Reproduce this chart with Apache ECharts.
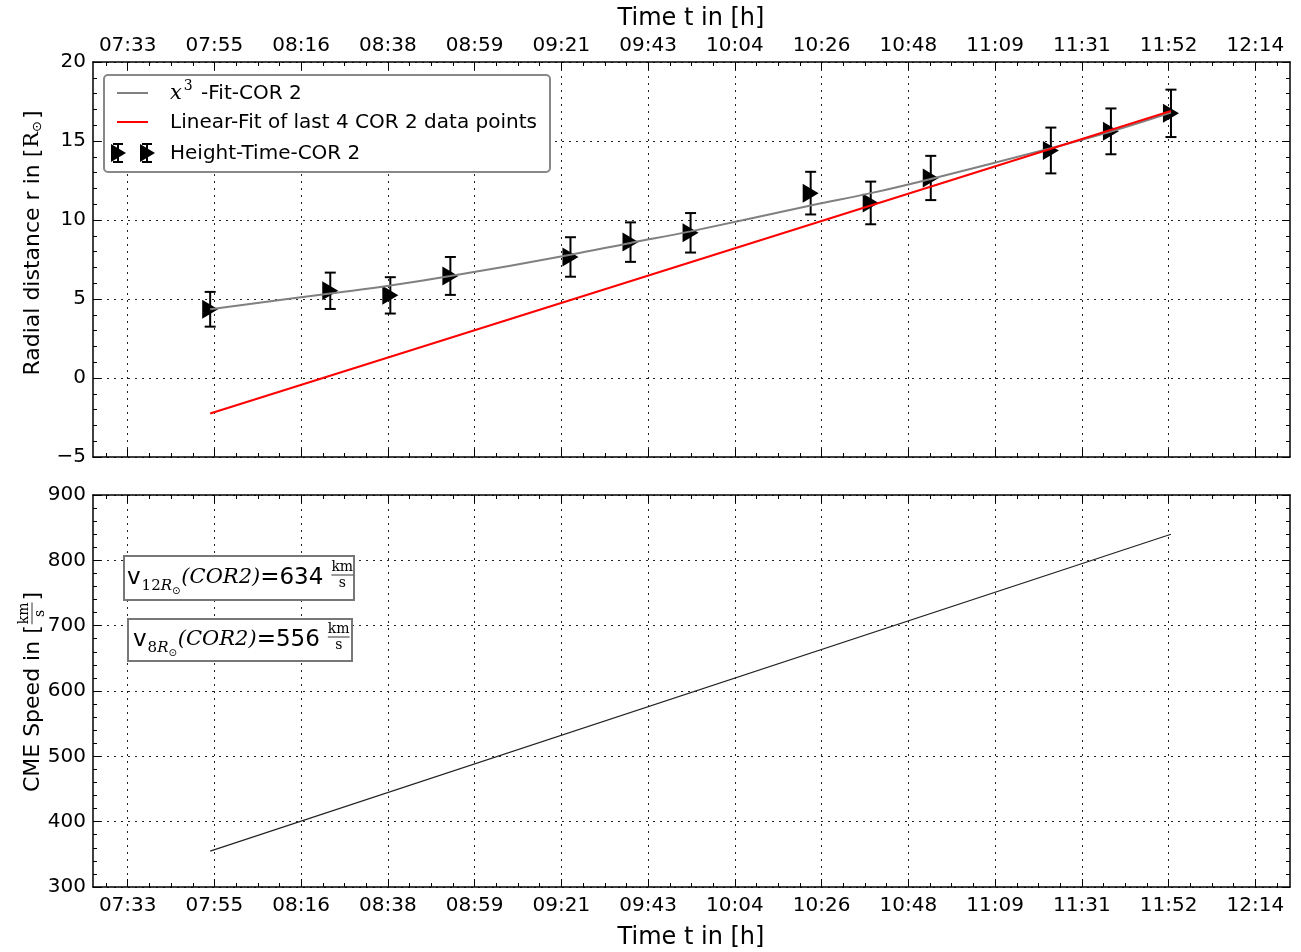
<!DOCTYPE html>
<html><head><meta charset="utf-8">
<script src="https://cdn.jsdelivr.net/npm/echarts@6/dist/echarts.min.js"></script>
<style>html,body{margin:0;padding:0;background:#fff}#c{width:1301px;height:952px}</style>
</head><body><div id="c"></div>
<script>
// ---------------- data ----------------
const tickLabels = ['07:33','07:55','08:16','08:38','08:59','09:21','09:43','10:04','10:26','10:48','11:09','11:31','11:52','12:14'];
const obsTimes   = ['07:54','08:24','08:39','08:54','09:24','09:39','09:54','10:24','10:39','10:54','11:24','11:39','11:54'];
const heights    = [4.35, 5.52, 5.23, 6.46, 7.66, 8.6, 9.19, 11.7, 11.08, 12.66, 14.4, 15.61, 16.75];
const heightErr  = [1.1, 1.15, 1.15, 1.2, 1.25, 1.25, 1.25, 1.35, 1.35, 1.4, 1.45, 1.45, 1.5];
const cubicFit   = [4.35, 5.35, 5.85, 6.45, 7.8, 8.55, 9.28, 10.92, 11.7, 12.6, 14.55, 15.6, 16.8];
const linearFitTimes = ['07:54','11:54'];
const linearFit      = [-2.25, 16.9];
const speedTimes = ['07:54','11:54'];
const speed      = [355, 840];
const rTicks = [-5, 0, 5, 10, 15, 20];
const vTicks = [300, 400, 500, 600, 700, 800, 900];

// ---------------- scales ----------------
const T0 = 453.4, STEP = 21.6667;           // minutes of first labelled tick, tick spacing
function toMin(s){ const p = s.split(':').map(Number); return p[0]*60 + p[1]; }
const xMin = T0 - 0.4*STEP, xMax = T0 + 13.4*STEP;
const N = 277;                               // -0.4 .. 13.4 tick-units in 0.05 steps
const cats = Array.from({length:N}, (_, i) => 'c' + i);
const isMajor = i => i >= 8 && (i - 8) % 20 === 0;
const isMinor = i => i >= 3 && (i - 3) % 5 === 0 && !isMajor(i);
const labelAt = i => isMajor(i) ? tickLabels[(i - 8) / 20] : '';

const SANS = 'DejaVu Sans', SERIF = 'DejaVu Serif';
const black = '#000';
const dotted = {color: '#222', type: [2, 5], width: 1};

function catAxis(grid, pos, kind, showLabel, showSplit){
  const major = kind === 'major';
  return {
    type: 'category', gridIndex: grid, position: pos, data: cats, boundaryGap: false,
    axisLine: {show: major, onZero: false, lineStyle: {color: black, width: 1.5}},
    axisTick: {show: true, inside: true, length: major ? 8 : 4,
      interval: major ? (i => isMajor(i)) : (i => isMinor(i)),
      lineStyle: {color: black, width: 1}},
    axisLabel: {show: showLabel, interval: i => isMajor(i), formatter: (v, i) => labelAt(i),
      fontFamily: SANS, fontSize: 20, color: black, margin: pos === 'top' ? 6 : 9},
    splitLine: {show: !!showSplit, interval: i => isMajor(i), lineStyle: dotted}
  };
}
function valX(grid){ return {type:'value', gridIndex: grid, show: false, min: xMin, max: xMax, axisLine:{onZero:false}}; }
function yAx(grid, pos, min, max, interval, showLabel){
  return {
    type: 'value', gridIndex: grid, position: pos, min: min, max: max, interval: interval,
    axisLine: {show: true, onZero: false, lineStyle: {color: black, width: 1.5}},
    axisTick: {show: true, inside: true, length: 8, lineStyle: {color: black}},
    minorTick: {show: true, splitNumber: 5, length: 4, lineStyle: {color: black}},
    axisLabel: {show: showLabel, fontFamily: SANS, fontSize: 20, color: black, margin: 7,
      formatter: v => v < 0 ? '\u2212' + (-v) : String(v)},
    splitLine: {show: showLabel, lineStyle: dotted}
  };
}

// ---------------- text helpers ----------------
const mctx = document.createElement('canvas').getContext('2d');
function fontStr(p){ return (p.it ? 'italic ' : '') + 'normal ' + p.size + 'px "' + p.fam + '"'; }
function tw(t, f){ mctx.font = f; return mctx.measureText(t).width; }
function runText(pieces, x0, y0, z){
  let x = x0; const els = [];
  pieces.forEach(p => {
    const f = fontStr(p);
    x += p.dx || 0;
    els.push({type: 'text', x: x, y: y0 + (p.dy || 0), z: z || 100,
      style: {text: p.t, font: f, fill: black, align: 'left', textAlign: 'left',
              verticalAlign: 'middle', textVerticalAlign: 'middle'}});
    x += tw(p.t, f);
  });
  return {els: els, width: x - x0};
}
function fraction(num, den, x, y, size, z){
  const f = 'normal normal ' + size + 'px "' + SERIF + '"';
  const wn = tw(num, f);
  return [
    {type:'text', x: x + wn/2, y: y - size*0.55, z: z, style:{text:num, font:f, fill:black, align:'center', textAlign:'center', verticalAlign:'middle', textVerticalAlign:'middle'}},
    {type:'line', z: z, shape:{x1: x, y1: y, x2: x + wn, y2: y}, style:{stroke:black, lineWidth:0.8}},
    {type:'text', x: x + wn/2, y: y + size*0.6, z: z, style:{text:den, font:f, fill:black, align:'center', textAlign:'center', verticalAlign:'middle', textVerticalAlign:'middle'}}
  ];
}

// ---------------- graphics ----------------
const graphics = [];
graphics.push({type:'text', x: 691, y: 19, z: 100, style:{text:'Time t in [h]', font:'normal normal 24px "'+SANS+'"', fill:black, align:'center', textAlign:'center', verticalAlign:'middle', textVerticalAlign:'middle'}});
graphics.push({type:'text', x: 691, y: 938, z: 100, style:{text:'Time t in [h]', font:'normal normal 24px "'+SANS+'"', fill:black, align:'center', textAlign:'center', verticalAlign:'middle', textVerticalAlign:'middle'}});

(function(){
  const r = runText([
    {t:'Radial distance r in [', size:22, fam:SANS},
    {t:'R', size:21, fam:SERIF, dx:1},
    {t:'\u2299', size:13, fam:'DejaVu Sans', dy:5},
    {t:']', size:22, fam:SANS, dx:2}
  ], 0, 0, 100);
  graphics.push({type:'group', x: 33, y: 243 + r.width/2, rotation: Math.PI/2, children: r.els});
})();
(function(){
  const r = runText([{t:'CME Speed in [', size:22, fam:SANS}], 0, 0, 100);
  const fs = 14;
  const wkm = tw('km', 'normal normal ' + fs + 'px "'+SERIF+'"');
  const f = fraction('km', 's', r.width + 1, -1, fs, 100);
  const r2 = runText([{t:']', size:22, fam:SANS}], r.width + wkm + 3, 0, 100);
  const total = r.width + wkm + 3 + r2.width;
  graphics.push({type:'group', x: 33, y: 692 + total/2, rotation: Math.PI/2, children: r.els.concat(f, r2.els)});
})();

// legend
(function(){
  const z = 100;
  graphics.push({type:'rect', z: z-1, shape:{x:104, y:75, width:446, height:97, r:4}, style:{fill:'#fff', stroke:'#888', lineWidth:2}});
  graphics.push({type:'line', z: z, shape:{x1:117, y1:93, x2:148, y2:93}, style:{stroke:'#808080', lineWidth:2}});
  graphics.push({type:'line', z: z, shape:{x1:117, y1:122, x2:148, y2:122}, style:{stroke:'#ff0000', lineWidth:2}});
  [118, 147].forEach(x => {
    const y = 153;
    graphics.push({type:'line', z: z, shape:{x1:x, y1:y-9, x2:x, y2:y+9}, style:{stroke:black, lineWidth:2}});
    graphics.push({type:'line', z: z, shape:{x1:x-5, y1:y-9, x2:x+5, y2:y-9}, style:{stroke:black, lineWidth:2}});
    graphics.push({type:'line', z: z, shape:{x1:x-5, y1:y+9, x2:x+5, y2:y+9}, style:{stroke:black, lineWidth:2}});
    graphics.push({type:'polygon', z: z+1, shape:{points:[[x-7,y-9],[x-7,y+9],[x+8,y]]}, style:{fill:black}});
  });
  const a = runText([
    {t:'x', size:21, fam:SERIF, it:true},
    {t:'3', size:14, fam:SERIF, dy:-8, dx:2},
    {t:' -Fit-COR 2', size:20, fam:SANS, dx:2}
  ], 170, 94, z);
  graphics.push(...a.els);
  graphics.push(...runText([{t:'Linear-Fit of last 4 COR 2 data points', size:20, fam:SANS}], 170, 123, z).els);
  graphics.push(...runText([{t:'Height-Time-COR 2', size:20, fam:SANS}], 170, 154, z).els);
})();

// speed annotation boxes
function speedBox(bx, by, bw, bh, sub, value, tx){
  const z = 100;
  graphics.push({type:'rect', z: z-1, shape:{x:bx, y:by, width:bw, height:bh}, style:{fill:'#fff', stroke:'#777', lineWidth:2}});
  const cy = by + bh/2;
  const r = runText([
    {t:'v', size:23, fam:SANS},
    {t:sub, size:15, fam:SERIF, dy:8, dx:1},
    {t:'R', size:15, fam:SERIF, it:true, dy:8},
    {t:'\u2299', size:10, fam:'DejaVu Sans', dy:13},
    {t:'(COR2)', size:21, fam:SERIF, it:true, dx:1},
    {t:'=' + value, size:23, fam:SANS}
  ], tx, cy, z);
  graphics.push(...r.els);
  graphics.push(...fraction('km', 's', tx + r.width + 8, cy - 3, 14, z));
}
speedBox(124, 556, 230, 44, '12', 634, 127);
speedBox(128, 619, 224, 42, '8', 556, 133);

// ---------------- series data ----------------
const errData   = obsTimes.map((t, i) => [toMin(t), heights[i], heightErr[i]]);
const pointData = obsTimes.map((t, i) => [toMin(t), heights[i]]);
const cubicData = obsTimes.map((t, i) => [toMin(t), cubicFit[i]]);
const linData   = linearFitTimes.map((t, i) => [toMin(t), linearFit[i]]);
const speedData = speedTimes.map((t, i) => [toMin(t), speed[i]]);

const option = {
  animation: false,
  backgroundColor: '#fff',
  grid: [
    {left: 93, right: 11, top: 62, height: 395, containLabel: false},
    {left: 93, right: 11, top: 495, height: 392, containLabel: false}
  ],
  xAxis: [
    valX(0),
    catAxis(0, 'bottom', 'major', false, true),
    catAxis(0, 'bottom', 'minor', false, false),
    catAxis(0, 'top', 'major', true, false),
    catAxis(0, 'top', 'minor', false, false),
    valX(1),
    catAxis(1, 'bottom', 'major', true, true),
    catAxis(1, 'bottom', 'minor', false, false),
    catAxis(1, 'top', 'major', false, false),
    catAxis(1, 'top', 'minor', false, false)
  ],
  yAxis: [
    yAx(0, 'left', rTicks[0], rTicks[rTicks.length-1], rTicks[1]-rTicks[0], true),
    yAx(0, 'right', rTicks[0], rTicks[rTicks.length-1], rTicks[1]-rTicks[0], false),
    yAx(1, 'left', vTicks[0], vTicks[vTicks.length-1], vTicks[1]-vTicks[0], true),
    yAx(1, 'right', vTicks[0], vTicks[vTicks.length-1], vTicks[1]-vTicks[0], false)
  ],
  series: [
    {
      type: 'custom', name: 'err', xAxisIndex: 0, yAxisIndex: 0, z: 2,
      data: errData, encode: {x: 0, y: 1},
      renderItem: function(params, api){
        const x = api.value(0), y = api.value(1), e = api.value(2);
        const top = api.coord([x, y + e]), bot = api.coord([x, y - e]);
        const hw = 5.5;
        const st = {stroke: black, lineWidth: 2};
        return {type: 'group', children: [
          {type:'line', shape:{x1: top[0], y1: top[1], x2: bot[0], y2: bot[1]}, style: st},
          {type:'line', shape:{x1: top[0]-hw, y1: top[1], x2: top[0]+hw, y2: top[1]}, style: st},
          {type:'line', shape:{x1: bot[0]-hw, y1: bot[1], x2: bot[0]+hw, y2: bot[1]}, style: st}
        ]};
      }
    },
    {
      type: 'scatter', name: 'Height-Time-COR 2', xAxisIndex: 0, yAxisIndex: 0, z: 3,
      data: pointData, symbol: 'triangle', symbolRotate: -90, symbolSize: [19, 16],
      itemStyle: {color: black, opacity: 1}
    },
    {
      type: 'line', name: 'x3-Fit-COR 2', xAxisIndex: 0, yAxisIndex: 0, z: 4,
      data: cubicData, smooth: 0.4, showSymbol: false, symbol: 'none',
      lineStyle: {color: '#808080', width: 2}
    },
    {
      type: 'line', name: 'Linear-Fit', xAxisIndex: 0, yAxisIndex: 0, z: 5,
      data: linData, showSymbol: false, symbol: 'none',
      lineStyle: {color: '#ff0000', width: 2}
    },
    {
      type: 'line', name: 'Speed', xAxisIndex: 5, yAxisIndex: 2, z: 4,
      data: speedData, showSymbol: false, symbol: 'none',
      lineStyle: {color: '#222', width: 1.2}
    }
  ],
  graphic: graphics
};
const chart = echarts.init(document.getElementById('c'), null, {renderer: 'canvas'});
chart.setOption(option);
</script>
</body></html>
